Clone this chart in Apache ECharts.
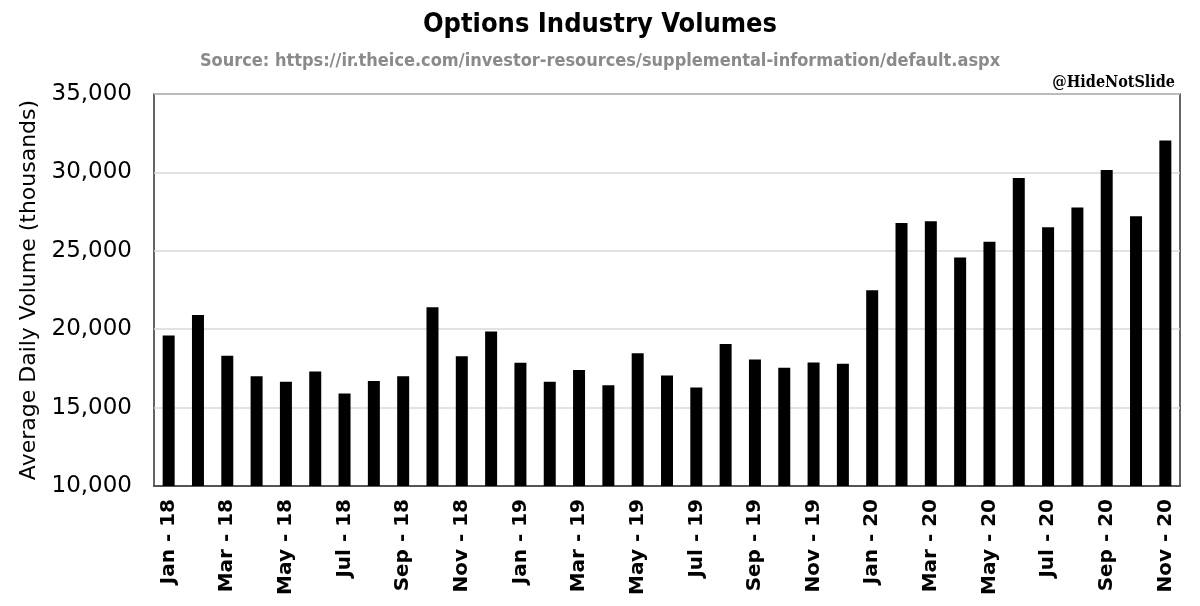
<!DOCTYPE html>
<html>
<head>
<meta charset="utf-8">
<script src="https://cdn.jsdelivr.net/npm/echarts@6/dist/echarts.min.js"></script>
<style>html,body{margin:0;padding:0;background:#fff;}#c{width:1200px;height:606px;}</style>
</head>
<body>
<div id="c"></div>
<script>
const months = ['Jan','Feb','Mar','Apr','May','Jun','Jul','Aug','Sep','Oct','Nov','Dec'];
const years = ['18','19','20'];
const categories = [];
years.forEach(y => months.forEach(m => { if (categories.length < 35) categories.push(m + ' - ' + y); }));
const volumes = [
  19600, 20900, 18300, 17000, 16650, 17300, 15900, 16700, 17000, 21400, 18270, 19850,
  17860, 16650, 17400, 16430, 18460, 17050, 16280, 19060, 18060, 17540, 17880, 17800,
  22480, 26770, 26880, 24570, 25580, 29640, 26500, 27760, 30150, 27200, 32030
];
const yTicks = { min: 10000, max: 35000, interval: 5000 };

const chart = echarts.init(document.getElementById('c'));
chart.setOption({
  backgroundColor: '#fff',
  animation: false,
  title: [
    { text: 'Options Industry Volumes', left: 'center', top: 6,
      textStyle: { fontFamily: 'DejaVu Sans Condensed, sans-serif', fontSize: 27, fontWeight: 'bold', color: '#000' } },
    { text: 'Source: https://ir.theice.com/investor-resources/supplemental-information/default.aspx', left: 'center', top: 47,
      textStyle: { fontFamily: 'DejaVu Sans Condensed, sans-serif', fontSize: 18, fontWeight: 'bold', color: '#8a8a8a' } },
    { text: '@HideNotSlide', right: 20, top: 70,
      textStyle: { fontFamily: 'DejaVu Serif Condensed, DejaVu Serif, serif', fontSize: 16, fontWeight: 'bold', color: '#000' } }
  ],
  grid: { left: 154, right: 20, top: 94, bottom: 120, show: true, borderColor: '#333', borderWidth: 1.5, containLabel: false },
  xAxis: {
    type: 'category',
    data: categories,
    axisLine: { show: true, lineStyle: { color: '#333', width: 1.5 } },
    axisTick: { show: false },
    axisLabel: { interval: 1, rotate: 90, margin: 13, fontFamily: 'DejaVu Sans, sans-serif', fontSize: 20, fontWeight: 'bold', color: '#000' }
  },
  yAxis: {
    type: 'value',
    min: yTicks.min, max: yTicks.max, interval: yTicks.interval,
    name: 'Average Daily Volume (thousands)',
    nameLocation: 'middle',
    nameGap: 110,
    nameTextStyle: { fontFamily: 'DejaVu Sans, sans-serif', fontSize: 22, color: '#000' },
    axisLine: { show: false },
    axisTick: { show: false },
    splitLine: { show: true, lineStyle: { color: '#d9d9d9', width: 1.5 } },
    axisLabel: { margin: 22, fontFamily: 'DejaVu Sans, sans-serif', fontSize: 23, color: '#000',
      formatter: v => v.toLocaleString('en-US') }
  },
  series: [{
    type: 'bar',
    data: volumes,
    barWidth: 12,
    itemStyle: { color: '#000' }
  }]
});
</script>
</body>
</html>
